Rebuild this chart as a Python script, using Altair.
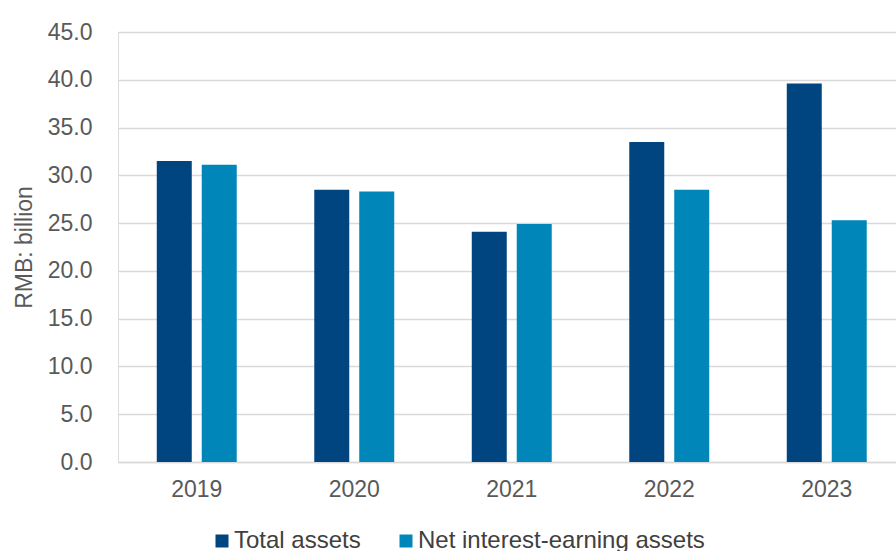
import altair as alt
import pandas as pd

years = ["2019", "2020", "2021", "2022", "2023"]
total_assets = [31.5, 28.5, 24.1, 33.5, 39.6]
net_interest_earning = [31.1, 28.3, 24.9, 28.5, 25.3]
series = ["Total assets", "Net interest-earning assets"]
colors = ["#00457F", "#0086B8"]

rows = []
for i, y in enumerate(years):
    rows.append({"year": y, "series": series[0], "value": total_assets[i]})
    rows.append({"year": y, "series": series[1], "value": net_interest_earning[i]})
df = pd.DataFrame(rows)

font = "Liberation Sans"
grey = "#595959"

chart = alt.Chart(df).mark_bar().encode(
    x=alt.X("year:N", sort=years, title=None,
            scale=alt.Scale(paddingInner=0, paddingOuter=0, range=[0, 787.5]),
            axis=alt.Axis(labelAngle=0, labelFontSize=23, labelColor=grey,
                          labelFont=font, labelPadding=16, ticks=False,
                          domainColor="#D9D9D9", domainWidth=1.5, grid=False)),
    xOffset=alt.XOffset("series:N", sort=series,
                        scale=alt.Scale(paddingInner=0.222, paddingOuter=0.862)),
    y=alt.Y("value:Q", title="RMB: billion",
            scale=alt.Scale(domain=[0, 45], nice=False),
            axis=alt.Axis(values=[0, 5, 10, 15, 20, 25, 30, 35, 40, 45], format=".1f",
                          labelFontSize=23, labelColor=grey, labelFont=font,
                          labelPadding=26, ticks=False, domain=False,
                          gridColor="#D9D9D9", gridWidth=1.5,
                          titleFont=font, titleFontSize=23, titleFontWeight="normal",
                          titleColor=grey, titleX=-82)),
    color=alt.Color("series:N", sort=series,
                    scale=alt.Scale(domain=series, range=colors),
                    legend=alt.Legend(title=None, orient="none", direction="horizontal",
                                      legendX=92, legendY=497, symbolType="square",
                                      symbolSize=169, symbolStrokeWidth=0,
                                      labelFontSize=24, labelFont=font,
                                      labelColor="#404040", columnPadding=33,
                                      labelOffset=0, labelLimit=400)),
).properties(
    width=778, height=430,
    autosize=alt.AutoSizeParams(type="none"),
    padding={"left": 118, "top": 32, "right": 0, "bottom": 89},
).configure_view(stroke=None).configure(background="white")

chart.save("out.html", embed_options={"renderer": "svg", "actions": False})
